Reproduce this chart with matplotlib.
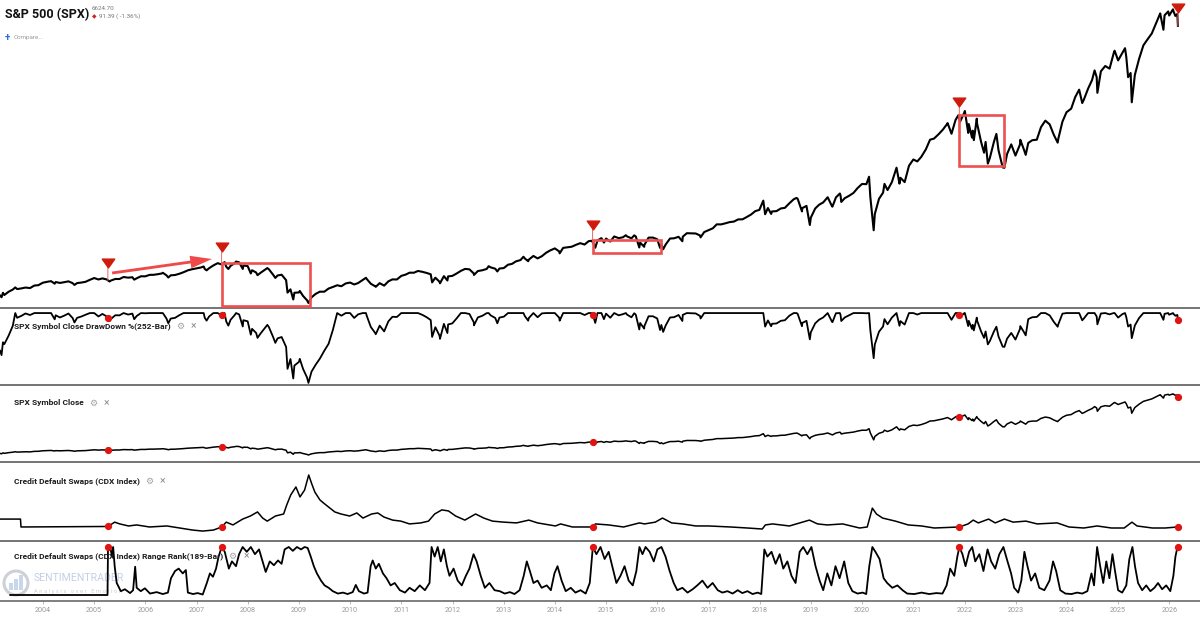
import numpy as np
import pandas as pd
import matplotlib
matplotlib.use('Agg')
import matplotlib.pyplot as plt
from matplotlib.patches import Rectangle, Circle
from matplotlib.path import Path
from matplotlib.transforms import ScaledTranslation, IdentityTransform

FONT = ['Roboto', 'DejaVu Sans']
plt.rcParams['font.family'] = FONT

# S&P 500 closes: month ends plus the notable highs / lows (2002 kept for the 252-bar lookback)
spx_dates = [
    '2002-03-19', '2002-03-28', '2002-04-30', '2002-05-17', '2002-05-31', '2002-06-03', '2002-06-17', '2002-06-28',
    '2002-07-23', '2002-07-31', '2002-08-22', '2002-08-30', '2002-09-30', '2002-10-09', '2002-10-31', '2002-11-27', '2002-12-31',
    '2003-01-14', '2003-01-31', '2003-02-28', '2003-03-11', '2003-03-21', '2003-03-31', '2003-04-30', '2003-05-30',
    '2003-06-17', '2003-06-30', '2003-07-31', '2003-08-29', '2003-09-30', '2003-10-31', '2003-11-28', '2003-12-31',
    '2004-01-30', '2004-02-27', '2004-03-24', '2004-03-31', '2004-04-30', '2004-05-28', '2004-06-30', '2004-07-30',
    '2004-08-12', '2004-08-31', '2004-09-30', '2004-10-29', '2004-11-30', '2004-12-31',
    '2005-01-31', '2005-02-28', '2005-03-31', '2005-04-20', '2005-04-29', '2005-05-31', '2005-06-30', '2005-07-29',
    '2005-08-31', '2005-09-30', '2005-10-13', '2005-10-31', '2005-11-30', '2005-12-30',
    '2006-01-31', '2006-02-28', '2006-03-31', '2006-04-28', '2006-05-05', '2006-05-31', '2006-06-13', '2006-06-30',
    '2006-07-31', '2006-08-31', '2006-09-29', '2006-10-31', '2006-11-30', '2006-12-29',
    '2007-01-31', '2007-02-20', '2007-02-28', '2007-03-13', '2007-03-30', '2007-04-30', '2007-05-31', '2007-06-29',
    '2007-07-19', '2007-07-31', '2007-08-15', '2007-08-31', '2007-09-28', '2007-10-09', '2007-10-31', '2007-11-26',
    '2007-11-30', '2007-12-31',
    '2008-01-22', '2008-01-31', '2008-02-29', '2008-03-10', '2008-03-31', '2008-04-30', '2008-05-19', '2008-05-30',
    '2008-06-30', '2008-07-15', '2008-07-31', '2008-08-29', '2008-09-30', '2008-10-10', '2008-10-31', '2008-11-20',
    '2008-11-28', '2008-12-31',
    '2009-01-06', '2009-01-30', '2009-02-27', '2009-03-09', '2009-03-31', '2009-04-30', '2009-05-29', '2009-06-30',
    '2009-07-31', '2009-08-31', '2009-09-30', '2009-10-30', '2009-11-30', '2009-12-31',
    '2010-01-29', '2010-02-26', '2010-03-31', '2010-04-23', '2010-04-30', '2010-05-28', '2010-06-30', '2010-07-02',
    '2010-07-30', '2010-08-31', '2010-09-30', '2010-10-29', '2010-11-30', '2010-12-31',
    '2011-01-31', '2011-02-28', '2011-03-31', '2011-04-29', '2011-05-31', '2011-06-30', '2011-07-29', '2011-08-08',
    '2011-08-31', '2011-09-30', '2011-10-03', '2011-10-31', '2011-11-25', '2011-11-30', '2011-12-30',
    '2012-01-31', '2012-02-29', '2012-03-30', '2012-04-30', '2012-05-31', '2012-06-01', '2012-06-29', '2012-07-31',
    '2012-08-31', '2012-09-14', '2012-09-28', '2012-10-31', '2012-11-15', '2012-11-30', '2012-12-31',
    '2013-01-31', '2013-02-28', '2013-03-28', '2013-04-30', '2013-05-21', '2013-05-31', '2013-06-24', '2013-06-28',
    '2013-07-31', '2013-08-30', '2013-09-30', '2013-10-31', '2013-11-29', '2013-12-31',
    '2014-01-31', '2014-02-03', '2014-02-28', '2014-03-31', '2014-04-30', '2014-05-30', '2014-06-30', '2014-07-31',
    '2014-08-29', '2014-09-18', '2014-09-30', '2014-10-15', '2014-10-31', '2014-11-28', '2014-12-16', '2014-12-31',
    '2015-01-30', '2015-02-27', '2015-03-31', '2015-04-30', '2015-05-21', '2015-05-29', '2015-06-30', '2015-07-20',
    '2015-07-31', '2015-08-25', '2015-08-31', '2015-09-29', '2015-09-30', '2015-10-30', '2015-11-30', '2015-12-31',
    '2016-01-20', '2016-01-29', '2016-02-11', '2016-02-29', '2016-03-31', '2016-04-29', '2016-05-31', '2016-06-27',
    '2016-06-30', '2016-07-29', '2016-08-31', '2016-09-30', '2016-10-31', '2016-11-04', '2016-11-30', '2016-12-30',
    '2017-01-31', '2017-02-28', '2017-03-31', '2017-04-28', '2017-05-31', '2017-06-30', '2017-07-31', '2017-08-31',
    '2017-09-29', '2017-10-31', '2017-11-30', '2017-12-29',
    '2018-01-26', '2018-02-08', '2018-02-28', '2018-03-23', '2018-03-29', '2018-04-30', '2018-05-31', '2018-06-29',
    '2018-07-31', '2018-08-31', '2018-09-20', '2018-09-28', '2018-10-29', '2018-10-31', '2018-11-30', '2018-12-24',
    '2018-12-31',
    '2019-01-31', '2019-02-28', '2019-03-29', '2019-04-30', '2019-05-31', '2019-06-03', '2019-06-28', '2019-07-26',
    '2019-07-31', '2019-08-05', '2019-08-30', '2019-09-30', '2019-10-31', '2019-11-29', '2019-12-31',
    '2020-01-31', '2020-02-19', '2020-02-28', '2020-03-23', '2020-03-31', '2020-04-30', '2020-05-29', '2020-06-08',
    '2020-06-30', '2020-07-31', '2020-09-02', '2020-09-23', '2020-09-30', '2020-10-30', '2020-11-30', '2020-12-31',
    '2021-01-29', '2021-02-26', '2021-03-31', '2021-04-30', '2021-05-28', '2021-06-30', '2021-07-30', '2021-08-31',
    '2021-09-02', '2021-09-30', '2021-10-29', '2021-11-18', '2021-11-30', '2021-12-31',
    '2022-01-03', '2022-01-27', '2022-01-31', '2022-02-23', '2022-02-28', '2022-03-08', '2022-03-29', '2022-03-31',
    '2022-04-29', '2022-05-20', '2022-05-31', '2022-06-16', '2022-06-30', '2022-07-29', '2022-08-16', '2022-08-31',
    '2022-09-30', '2022-10-12', '2022-10-31', '2022-11-30', '2022-12-30',
    '2023-01-31', '2023-02-02', '2023-02-28', '2023-03-13', '2023-03-31', '2023-04-28', '2023-05-31', '2023-06-30',
    '2023-07-31', '2023-08-31', '2023-09-29', '2023-10-27', '2023-10-31', '2023-11-30', '2023-12-29',
    '2024-01-31', '2024-02-29', '2024-03-28', '2024-04-19', '2024-04-30', '2024-05-31', '2024-06-28', '2024-07-16',
    '2024-07-31', '2024-08-05', '2024-08-30', '2024-09-30', '2024-10-31', '2024-11-29', '2024-12-06', '2024-12-31',
    '2025-01-31', '2025-02-19', '2025-02-28', '2025-03-13', '2025-03-31', '2025-04-08', '2025-04-30', '2025-05-30',
    '2025-06-30', '2025-07-31', '2025-08-29', '2025-09-30', '2025-10-28', '2025-10-31', '2025-11-20', '2025-11-28',
    '2025-12-24', '2025-12-31',
    '2026-01-27', '2026-01-30', '2026-02-13', '2026-02-27', '2026-03-03',
]
spx_close = [
    1170, 1147, 1077, 1106, 1067, 1040, 1037, 990, 797, 912, 962, 916, 815, 777, 886, 938, 880,
    932, 856, 841, 800, 895, 848, 917, 964, 1011, 975, 990, 1008, 996, 1051, 1058, 1112,
    1131, 1145, 1091, 1126, 1107, 1121, 1141, 1102, 1064, 1104, 1115, 1130, 1174, 1212,
    1181, 1204, 1181, 1138, 1157, 1192, 1191, 1234, 1220, 1229, 1177, 1207, 1250, 1248,
    1280, 1281, 1295, 1311, 1325, 1270, 1223, 1270, 1277, 1304, 1336, 1378, 1401, 1418,
    1438, 1460, 1407, 1377, 1421, 1482, 1531, 1503, 1553, 1455, 1406, 1474, 1527, 1565, 1549, 1407, 1481, 1468,
    1310, 1379, 1331, 1273, 1323, 1386, 1426, 1400, 1280, 1214, 1267, 1283, 1166, 899, 969, 752, 896, 903,
    935, 826, 735, 677, 798, 873, 919, 919, 987, 1021, 1057, 1036, 1096, 1115,
    1074, 1104, 1169, 1217, 1187, 1089, 1031, 1023, 1102, 1049, 1141, 1183, 1181, 1258,
    1286, 1327, 1326, 1364, 1345, 1321, 1292, 1119, 1219, 1131, 1099, 1253, 1159, 1247, 1258,
    1312, 1366, 1408, 1398, 1310, 1278, 1362, 1379, 1407, 1466, 1441, 1412, 1353, 1416, 1426,
    1498, 1515, 1569, 1598, 1669, 1631, 1573, 1606, 1686, 1633, 1682, 1757, 1806, 1848,
    1783, 1742, 1859, 1872, 1884, 1924, 1960, 1931, 2003, 2011, 1972, 1862, 2018, 2068, 1973, 2059,
    1995, 2104, 2068, 2086, 2131, 2107, 2063, 2128, 2104, 1868, 1972, 1882, 1920, 2079, 2080, 2044,
    1859, 1940, 1829, 1932, 2060, 2065, 2097, 2001, 2099, 2174, 2171, 2168, 2126, 2085, 2199, 2239,
    2279, 2364, 2363, 2384, 2412, 2423, 2470, 2472, 2519, 2575, 2648, 2674,
    2873, 2581, 2714, 2588, 2641, 2648, 2705, 2718, 2816, 2902, 2931, 2914, 2641, 2712, 2760, 2351, 2507,
    2704, 2785, 2834, 2946, 2752, 2744, 2942, 3026, 2980, 2845, 2926, 2977, 3038, 3141, 3231,
    3226, 3386, 2954, 2237, 2585, 2912, 3044, 3232, 3100, 3271, 3580, 3237, 3363, 3270, 3622, 3756,
    3714, 3811, 3973, 4181, 4204, 4298, 4395, 4523, 4537, 4308, 4605, 4705, 4567, 4766,
    4797, 4326, 4516, 4226, 4374, 4171, 4632, 4530, 4132, 3901, 4132, 3667, 3785, 4130, 4305, 3955,
    3586, 3577, 3872, 4080, 3840,
    4077, 4179, 3970, 3855, 4109, 4169, 4180, 4450, 4589, 4508, 4288, 4117, 4194, 4568, 4770,
    4846, 5096, 5254, 4967, 5036, 5278, 5460, 5667, 5522, 5186, 5648, 5762, 5705, 6032, 6090, 5882,
    6041, 6144, 5955, 5522, 5612, 4983, 5569, 5912, 6205, 6339, 6460, 6688, 6890, 6840, 6540, 6849,
    6932, 6845,
    6978, 6939, 6836, 6879, 6624.70,
]

# CDX index level (decimal year, level)
cdx_t = [2003.16, 2003.56, 2003.57, 2005.27, 2005.40, 2005.50, 2005.67, 2005.83, 2006.08, 2006.42, 2006.67,
         2006.92, 2007.12, 2007.33, 2007.49, 2007.58, 2007.71, 2007.90, 2008.05, 2008.19, 2008.29, 2008.38,
         2008.54, 2008.70, 2008.76, 2008.84, 2008.94, 2009.02, 2009.11, 2009.19, 2009.25, 2009.31, 2009.41,
         2009.48, 2009.58, 2009.70, 2009.82, 2009.99, 2010.13, 2010.25, 2010.42, 2010.54, 2010.66, 2010.83,
         2010.99, 2011.16, 2011.38, 2011.53, 2011.65, 2011.79, 2011.92, 2012.06, 2012.24, 2012.45, 2012.61,
         2012.78, 2013.00, 2013.25, 2013.49, 2013.66, 2014.01, 2014.11, 2014.34, 2014.74, 2014.79, 2015.05,
         2015.34, 2015.65, 2015.75, 2015.96, 2016.10, 2016.28, 2016.49, 2016.75, 2017.00, 2017.43, 2017.76,
         2018.05, 2018.11, 2018.25, 2018.58, 2018.97, 2019.13, 2019.32, 2019.62, 2019.95, 2020.10, 2020.20,
         2020.28, 2020.40, 2020.65, 2020.90, 2021.16, 2021.41, 2021.90, 2022.07, 2022.17, 2022.27, 2022.47,
         2022.60, 2022.78, 2022.95, 2023.20, 2023.42, 2023.81, 2024.04, 2024.33, 2024.59, 2024.87, 2025.12,
         2025.27, 2025.37, 2025.67, 2025.92, 2026.16]
cdx_val = [73, 73, 42, 44, 61, 54, 46, 50, 42, 46, 38,
           30, 26, 30, 42, 61, 50, 73, 85, 101, 77, 65,
           85, 93, 128, 168, 199, 160, 187, 246, 211, 179, 148,
           136, 120, 101, 93, 85, 97, 77, 93, 97, 81, 69,
           65, 54, 58, 65, 93, 109, 105, 85, 69, 93, 77,
           65, 61, 58, 69, 58, 46, 54, 42, 42, 54, 50,
           42, 58, 54, 61, 77, 58, 54, 46, 46, 42, 38,
           34, 50, 54, 46, 69, 54, 50, 54, 38, 42, 116,
           93, 77, 65, 50, 46, 38, 42, 54, 69, 58, 73,
           58, 73, 61, 65, 54, 58, 42, 38, 46, 38, 38,
           61, 46, 38, 38, 42]

# CDX 189-bar range rank (0-100)
rank_t = [2003.36, 2005.26, 2005.27, 2005.31, 2005.35, 2005.37, 2005.40, 2005.44, 2005.52, 2005.60, 2005.70,
          2005.76, 2005.80, 2005.83, 2005.91, 2005.99, 2006.09, 2006.22, 2006.34, 2006.44, 2006.50, 2006.58,
          2006.65, 2006.73, 2006.79, 2006.83, 2006.93, 2007.02, 2007.12, 2007.20, 2007.26, 2007.32, 2007.38,
          2007.43, 2007.49, 2007.55, 2007.63, 2007.69, 2007.77, 2007.83, 2007.90, 2007.98, 2008.06, 2008.14,
          2008.22, 2008.29, 2008.35, 2008.43, 2008.51, 2008.59, 2008.66, 2008.72, 2008.80, 2008.88, 2008.96,
          2009.04, 2009.11, 2009.17, 2009.23, 2009.29, 2009.35, 2009.43, 2009.50, 2009.58, 2009.66, 2009.76,
          2009.86, 2009.95, 2010.05, 2010.11, 2010.17, 2010.27, 2010.34, 2010.40, 2010.44, 2010.50, 2010.56,
          2010.64, 2010.71, 2010.79, 2010.87, 2010.97,
          2011.07, 2011.16, 2011.26, 2011.36, 2011.46, 2011.55, 2011.59, 2011.65, 2011.71, 2011.77, 2011.83,
          2011.89, 2011.94, 2012.02, 2012.10, 2012.18, 2012.26, 2012.33, 2012.41, 2012.47, 2012.55, 2012.63,
          2012.72, 2012.82, 2012.92, 2013.02, 2013.12, 2013.21, 2013.31, 2013.39, 2013.45, 2013.51, 2013.58,
          2013.66, 2013.74, 2013.84, 2013.92, 2013.99, 2014.05, 2014.13, 2014.21, 2014.31, 2014.40, 2014.50,
          2014.60, 2014.68, 2014.74, 2014.81, 2014.89, 2014.97, 2015.05, 2015.13, 2015.20, 2015.28, 2015.36,
          2015.44, 2015.52, 2015.59, 2015.65, 2015.71, 2015.77, 2015.85, 2015.93, 2016.00, 2016.08, 2016.16,
          2016.24, 2016.32, 2016.39, 2016.49, 2016.59, 2016.69, 2016.78, 2016.88, 2016.98, 2017.08, 2017.18,
          2017.27, 2017.37, 2017.47, 2017.57, 2017.66, 2017.76, 2017.86, 2017.96, 2018.03, 2018.09, 2018.15,
          2018.23, 2018.31, 2018.39, 2018.46, 2018.54, 2018.62, 2018.70, 2018.78, 2018.85, 2018.93, 2019.01,
          2019.09, 2019.17, 2019.24, 2019.32, 2019.40, 2019.48, 2019.56, 2019.65, 2019.73, 2019.81, 2019.91,
          2020.01, 2020.08, 2020.14, 2020.20, 2020.26, 2020.34, 2020.42, 2020.49, 2020.59, 2020.69, 2020.79,
          2020.88, 2021.02, 2021.16, 2021.31, 2021.45, 2021.57, 2021.65, 2021.72, 2021.80, 2021.86, 2021.90,
          2021.96, 2022.02, 2022.09, 2022.15, 2022.21, 2022.29, 2022.37, 2022.45, 2022.52, 2022.60, 2022.68,
          2022.76, 2022.84, 2022.91, 2022.97, 2023.05, 2023.11, 2023.17, 2023.23, 2023.30, 2023.38, 2023.46,
          2023.56, 2023.66, 2023.73, 2023.79, 2023.87, 2023.97, 2024.09, 2024.20, 2024.30, 2024.40, 2024.48,
          2024.53, 2024.59, 2024.65, 2024.71, 2024.77, 2024.83, 2024.89, 2024.94, 2025.00, 2025.08, 2025.16,
          2025.22, 2025.28, 2025.33, 2025.39, 2025.47, 2025.55, 2025.63, 2025.71, 2025.78, 2025.86, 2025.94,
          2026.02, 2026.08, 2026.12, 2026.16]
rank_val = [0, 0, 100, 100, 80, 100, 60, 25, 8, 12, 4,
            10, 59, 15, 8, 14, 3, 6, 2, 5, 35, 50,
            55, 45, 52, 5, 2, 4, 1, 25, 45, 38, 55,
            80, 100, 90, 55, 70, 60, 85, 100, 90, 100, 85,
            95, 70, 48, 70, 62, 72, 65, 95, 100, 92, 100,
            95, 100, 98, 80, 60, 45, 30, 20, 15, 8, 3,
            5, 2, 6, 21, 8, 3, 5, 60, 72, 55, 65,
            45, 35, 20, 25, 10,
            5, 15, 8, 20, 10, 25, 100, 80, 100, 70, 95,
            60, 40, 55, 30, 20, 40, 55, 85, 70, 40, 15,
            25, 10, 8, 3, 6, 2, 10, 40, 70, 50, 25,
            30, 15, 20, 10, 45, 60, 30, 8, 15, 5, 10,
            3, 25, 100, 85, 100, 75, 90, 55, 25, 40, 60,
            30, 20, 50, 100, 85, 100, 90, 70, 95, 100, 80,
            50, 25, 10, 15, 5, 12, 20, 30, 15, 25, 10,
            5, 8, 3, 10, 4, 8, 2, 5, 2, 95, 80,
            90, 65, 85, 55, 70, 40, 25, 90, 100, 85, 100,
            60, 30, 10, 45, 20, 60, 35, 70, 25, 8, 3,
            5, 2, 60, 100, 90, 75, 35, 25, 15, 20, 10,
            3, 2, 5, 2, 4, 3, 20, 55, 40, 80, 100,
            85, 60, 90, 100, 70, 85, 50, 95, 70, 55, 85,
            100, 70, 45, 15, 5, 30, 90, 60, 30, 45, 15,
            10, 30, 70, 50, 10, 3, 2, 5, 3, 8, 45,
            20, 100, 60, 25, 70, 35, 85, 50, 10, 5, 20,
            75, 100, 60, 25, 10, 20, 8, 15, 25, 12, 20,
            8, 40, 80, 100]

# signal dates marked on every panel
signal_dates = ['2005-04-08', '2007-06-28', '2014-09-26', '2021-11-25', '2026-03-03']

# red boxes on the price chart: (start year, end year, low, high)
boxes = [(2007.49, 2009.21, 612, 1534), (2014.74, 2016.08, 1749, 2028), (2021.90, 2022.78, 3616, 4710)]
arrow_start = (2005.35, 1320)
arrow_end = (2007.30, 1620)

years = list(range(2004, 2027))

assert len(spx_dates) == len(spx_close)
assert len(cdx_t) == len(cdx_val)
assert len(rank_t) == len(rank_val)


def to_year(d):
    return np.asarray(d.year + (d.dayofyear - 0.5) / 365.25, dtype=float)


d = pd.to_datetime(spx_dates)
spx = pd.Series(spx_close, index=d, dtype=float)
drawdown = (spx / spx.rolling('365D').max() - 1) * 100
t_spx = to_year(d)
t_sig = to_year(pd.to_datetime(signal_dates))
px_sig = np.interp(t_sig, t_spx, spx.values)
dd_sig = np.interp(t_sig, t_spx, drawdown.values)
cdx_sig = np.interp(t_sig, cdx_t, cdx_val)

W, H = 1200, 619
fig = plt.figure(figsize=(12, 6.19), dpi=100, facecolor='white')


def panel(top, bottom, **kw):
    return fig.add_axes([0, 1 - bottom / H, 1, (bottom - top) / H], **kw)


ax_px = panel(0, 308)
ax_dd = panel(308, 385, sharex=ax_px)
ax_cl = panel(385, 462, sharex=ax_px)
ax_cdx = panel(462, 541, sharex=ax_px)
ax_rk = panel(541, 601, sharex=ax_px)
axes = [ax_px, ax_dd, ax_cl, ax_cdx, ax_rk]

for ax in axes:
    ax.set_facecolor('none')
    for s in ['top', 'left', 'right']:
        ax.spines[s].set_visible(False)
    ax.spines['bottom'].set_color('#5c5c5c')
    ax.spines['bottom'].set_linewidth(1.2)
    ax.tick_params(left=False, labelleft=False, bottom=False, labelbottom=False)

ax_px.set_xlim(2003.16, 2026.6)

RED = '#e01512'
# price panel
ax_px.plot(t_spx, spx.values, color='black', lw=1.5, zorder=3)
ax_px.set_ylim(569, 7178)
for x0, x1, lo, hi in boxes:
    ax_px.add_patch(Rectangle((x0, lo), x1 - x0, hi - lo, fill=False, ec='#ec5050', lw=1.9, zorder=4))
ax_px.annotate('', xy=arrow_end, xytext=arrow_start,
               arrowprops=dict(arrowstyle='simple,head_length=1.3,head_width=0.75,tail_width=0.17',
                               fc='#ef4a4a', ec='none', mutation_scale=12, shrinkA=0, shrinkB=0), zorder=4)
tri = Path([(-1, 0.7), (1, 0.7), (0, -0.7), (-1, 0.7)], [Path.MOVETO, Path.LINETO, Path.LINETO, Path.CLOSEPOLY])
for t, p in zip(t_sig, px_sig):
    ax_px.annotate('', xy=(t, p), xytext=(0, 9.5), textcoords='offset points',
                   arrowprops=dict(arrowstyle='-', color='#e66a6a', lw=0.7, shrinkA=0, shrinkB=0))
off = ScaledTranslation(0, 12.5 / 72, fig.dpi_scale_trans)
ax_px.plot(t_sig, px_sig, ls='none', marker=tri, ms=9, color='#cf1b0b',
           transform=ax_px.transData + off, clip_on=False, zorder=5)

# drawdown panel
ax_dd.plot(t_spx, drawdown.values, color='black', lw=1.3, zorder=3)
ax_dd.plot(t_sig, dd_sig, ls='none', marker='o', ms=4.2, color=RED, zorder=4)
ax_dd.set_ylim(-54.1, 3.8)

# close panel
ax_cl.plot(t_spx, spx.values, color='black', lw=1.1, zorder=3)
ax_cl.plot(t_sig, px_sig, ls='none', marker='o', ms=4.2, color=RED, zorder=4)
ax_cl.set_ylim(-46, 7893)

# cdx panel
ax_cdx.plot(cdx_t, cdx_val, color='black', lw=1.1, zorder=3)
ax_cdx.plot(t_sig, cdx_sig, ls='none', marker='o', ms=4.2, color=RED, zorder=4)
ax_cdx.set_ylim(-13, 297)

# range rank panel
ax_rk.plot(rank_t, rank_val, color='black', lw=1.3, zorder=3)
ax_rk.plot(t_sig, [100] * len(t_sig), ls='none', marker='o', ms=4.2, color=RED, zorder=4, clip_on=False)
ax_rk.set_ylim(-12.5, 112.5)
ax_rk.spines['bottom'].set_color('#6a6a6a')
ax_rk.set_xticks(years)
ax_rk.set_xticklabels([str(y) for y in years])
ax_rk.tick_params(bottom=True, labelbottom=True, length=2, width=0.6, color='#b0b0b0',
                  labelsize=5.2, labelcolor='#9a9a9a', pad=2)

# watermark
idt = IdentityTransform()
ax_rk.add_patch(Circle((16, H - 583), 12, transform=idt, fill=False, ec='#cdd1d6', lw=2.2, zorder=1))
for bx, bh in [(9, 7), (14, 11), (19, 15)]:
    ax_rk.add_patch(Rectangle((bx, H - 590), 3.5, bh, transform=idt, fc='#c9d7ec', ec='none', zorder=1))
ax_rk.text(34 / W, 1 - 578 / H, 'SENTIMENTRADER', transform=fig.transFigure, fontsize=7.6,
           color='#c3d0e6', va='center', zorder=1)
ax_rk.text(34 / W, 1 - 591 / H, 'A n a l y s i s   o v e r   E m o t i o n', transform=fig.transFigure,
           fontsize=4.2, color='#cfcfcf', va='center', zorder=1)

# header texts
fig.text(5 / W, 1 - 15 / H, 'S&P 500 (SPX)', fontsize=9, fontweight='bold', color='#111111', va='center')
fig.text(92 / W, 1 - 8.5 / H, '6624.70', fontsize=4.5, color='#777777', va='center')
fig.text(91.5 / W, 1 - 16.5 / H, '◆', fontsize=4.2, color='#d42020', va='center')
fig.text(99 / W, 1 - 16.5 / H, '91.39 ( -1.36%)', fontsize=4.5, color='#777777', va='center')
fig.text(5 / W, 1 - 38 / H, '+', fontsize=7, fontweight='bold', color='#2f6fd6', va='center')
fig.text(14 / W, 1 - 38 / H, 'Compare...', fontsize=4.5, color='#9a9a9a', va='center')

labels = [('SPX Symbol Close DrawDown %(252-Bar)', 326),
          ('SPX Symbol Close', 403),
          ('Credit Default Swaps (CDX Index)', 481),
          ('Credit Default Swaps (CDX Index) Range Rank(189-Bar)', 556)]
label_texts = []
for txt, yp in labels:
    label_texts.append(fig.text(14 / W, 1 - yp / H, txt, fontsize=6, fontweight='bold',
                                color='#1c1c1c', va='center', zorder=6))

fig.canvas.draw()
renderer = fig.canvas.get_renderer()
for t, (txt, yp) in zip(label_texts, labels):
    bb = t.get_window_extent(renderer)
    fig.text((bb.x1 + 5) / W, 1 - yp / H, '⚙', fontsize=6.5, color='#a0a0a0', va='center', family=FONT)
    fig.text((bb.x1 + 20) / W, 1 - yp / H, '×', fontsize=7.5, color='#8c8c8c', va='center', family=FONT)

fig.savefig('out.png', dpi=100, facecolor='white')
